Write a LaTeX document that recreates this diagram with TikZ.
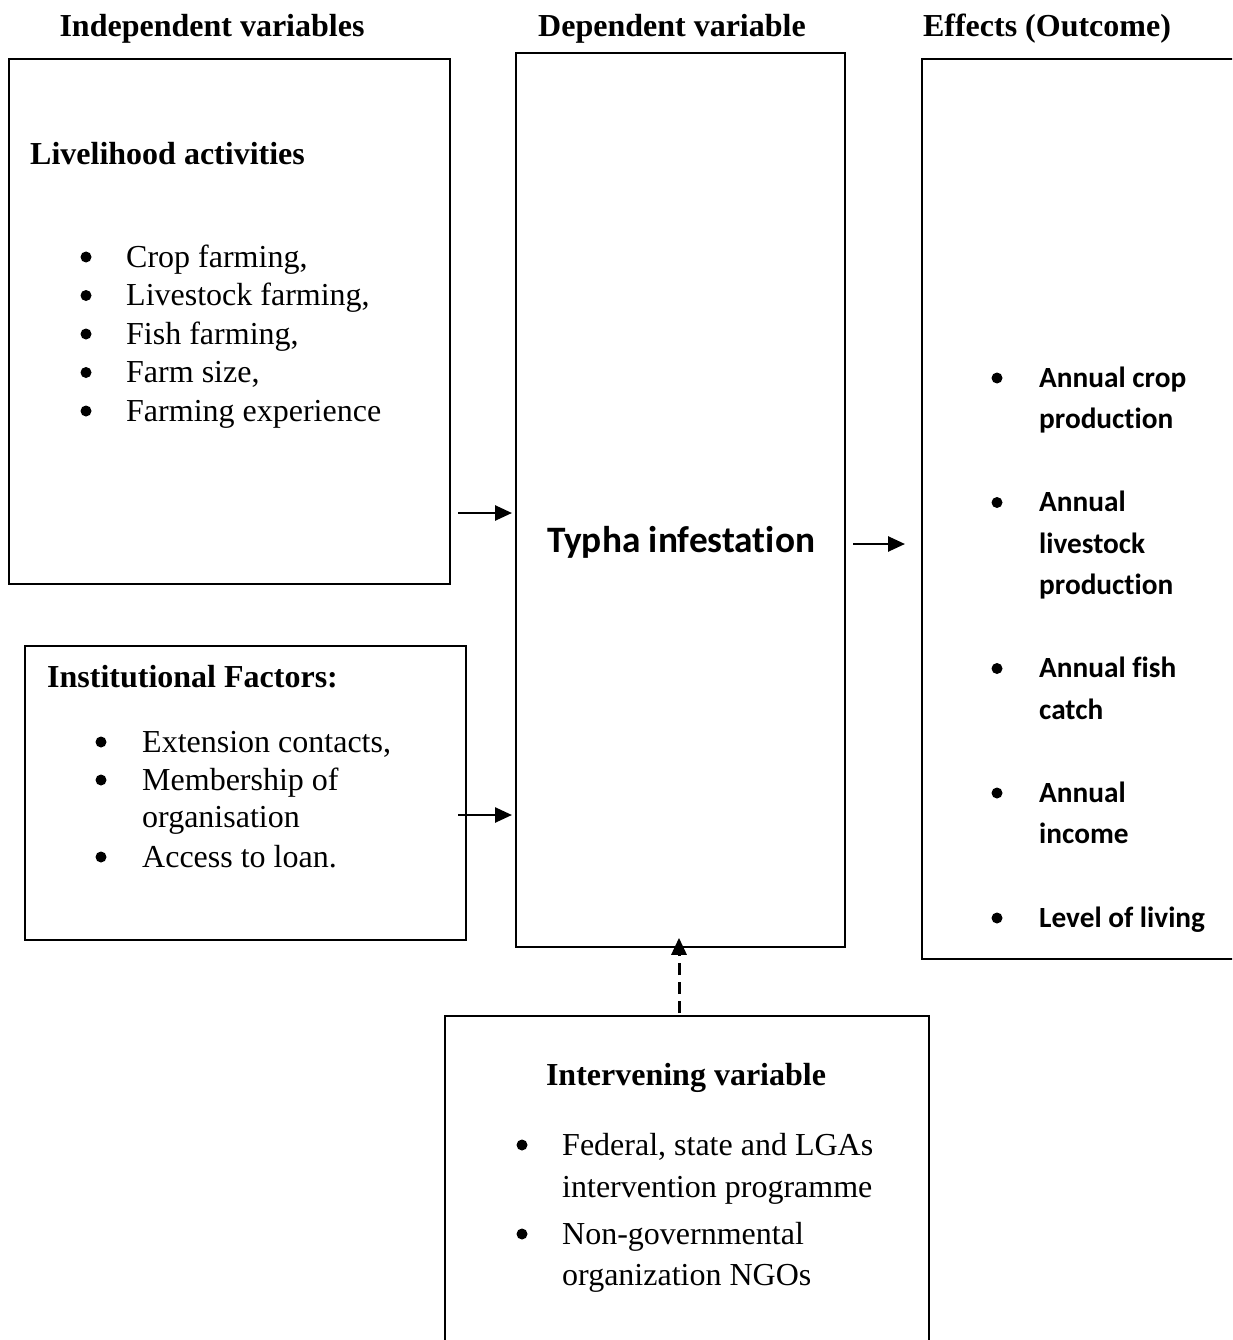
\documentclass[tikz,border=0pt]{standalone}
\usepackage{fontspec}
\setmainfont{Liberation Serif}
\newfontfamily\calib[Ligatures=NoCommon]{Carlito}
\usetikzlibrary{arrows.meta}
\begin{document}
\begin{tikzpicture}[x=1pt,y=-1pt,
  box/.style={draw, line width=1.8pt, inner sep=0pt, anchor=north west},
  conn/.style={line width=2.6pt, -{Triangle[length=17pt,width=15pt]}},
  hdr/.style={anchor=base, inner sep=0pt, font=\fontsize{32}{39}\selectfont\bfseries},
  hdrw/.style={anchor=base west, inner sep=0pt, font=\fontsize{32}{39}\selectfont\bfseries},
  tt/.style={anchor=base west, inner sep=0pt, font=\fontsize{32}{39}\selectfont},
  bul/.style={circle, fill, inner sep=0pt, minimum size=11pt, yshift=10pt},
  ct/.style={anchor=base west, inner sep=0pt, font=\calib\bfseries\fontsize{29.3}{41}\selectfont},
]
\useasboundingbox (0,0) rectangle (1232,1340);
\fill[white] (0,0) rectangle (1232,1340);
\clip (0,0) rectangle (1232,1340);

% headers
\node[hdr] (h1) at (212,37) {Independent variables};
\node[hdr] (h2) at (672,37) {Dependent variable};
\node[hdr] (h3) at (1047,37) {Effects (Outcome)};

% boxes
\node[box, minimum width=441pt, minimum height=525pt] (lv) at (8,58) {};
\node[box, minimum width=441pt, minimum height=294pt] (inst) at (24,645) {};
\node[box, minimum width=329pt, minimum height=894pt] (dv) at (515,52) {};
\node[box, minimum width=340pt, minimum height=900pt] (eo) at (921,58) {};
\node[box, minimum width=484pt, minimum height=345pt] (iv) at (444,1015) {};

% livelihood box
\node[hdrw] (lvh) at (30,165) {Livelihood activities};
\foreach \y/\t [count=\i] in {267/{Crop farming,},305.5/{Livestock farming,},344/{Fish farming,},382.5/{Farm size,},421/{Farming experience}}{
  \node[bul] (lvb\i) at (86,\y) {};
  \node[tt] (lvt\i) at (126,\y) {\t};
}

% institutional box
\node[hdrw] (insth) at (47,687) {Institutional Factors:};
\node[bul] (ib1) at (101,752) {};
\node[tt] (it1) at (142,752) {Extension contacts,};
\node[bul] (ib2) at (101,790) {};
\node[tt] (it2) at (142,790) {Membership of};
\node[tt] (it2b) at (142,827) {organisation};
\node[bul] (ib3) at (101,867) {};
\node[tt] (it3) at (142,867) {Access to loan.};

% dependent
\node[anchor=base, inner sep=0pt, font=\calib\bfseries\fontsize{37.3}{45}\selectfont] (ty) at (681,552) {Typha infestation};

% effects
\node[bul] (eb1) at (997,388) {};
\node[ct] (et1) at (1039,387) {Annual crop};
\node[ct] (et1b) at (1039,428.5) {production};
\node[bul] (eb2) at (997,512.5) {};
\node[ct] (et2) at (1039,511.5) {Annual};
\node[ct] (et2b) at (1039,553) {livestock};
\node[ct] (et2c) at (1039,594.5) {production};
\node[bul] (eb3) at (997,678.5) {};
\node[ct] (et3) at (1039,677.5) {Annual fish};
\node[ct] (et3b) at (1039,719) {catch};
\node[bul] (eb4) at (997,803) {};
\node[ct] (et4) at (1039,802) {Annual};
\node[ct] (et4b) at (1039,843.5) {income};
\node[bul] (eb5) at (997,928) {};
\node[ct] (et5) at (1039,927) {Level of living};

% intervening
\node[hdr] (ivh) at (686,1085) {Intervening variable};
\node[bul] (vb1) at (522,1155) {};
\node[tt] (vt1) at (562,1155) {Federal, state and LGAs};
\node[tt] (vt1b) at (562,1197) {intervention programme};
\node[bul] (vb2) at (522,1244) {};
\node[tt] (vt2) at (562,1244) {Non-governmental};
\node[tt] (vt2b) at (562,1285) {organization NGOs};

% connectors
\coordinate (a1s) at (458,513);
\coordinate (a2s) at (458,815);
\coordinate (a3s) at (853,544);
\coordinate (a3e) at (905,544);
\coordinate (a4s) at (679,1013);
\draw[conn, shorten >=3pt] (a1s) -- (a1s -| dv.west);
\draw[conn, shorten >=3pt] (a2s) -- (a2s -| dv.west);
\draw[conn] (a3s) -- (a3e);
\draw[conn, line width=3pt, dash pattern=on 12pt off 7pt, shorten >=-10pt] (a4s) -- (a4s |- dv.south);
\end{tikzpicture}
\end{document}
